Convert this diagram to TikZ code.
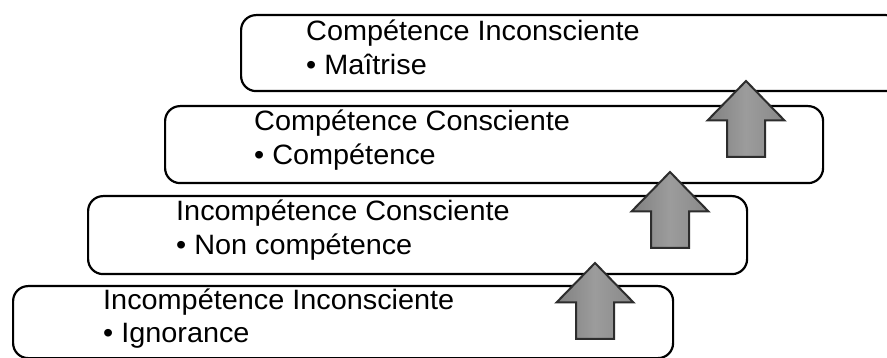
\documentclass[tikz,border=0pt]{standalone}
\usepackage{fontspec}
\setmainfont{Liberation Sans}
\begin{document}
\begin{tikzpicture}[x=1pt,y=-1pt,
  stagebox/.style={draw=black,line width=2.2pt,rounded corners=15pt,fill=white,
    inner sep=0pt,anchor=north west},
  stagetext/.style={anchor=base west,inner sep=0pt,
    font=\fontsize{28pt}{32pt}\selectfont},
  arrowshape/.style={draw={rgb,255:red,45;green,45;blue,45},line width=2pt,line join=miter,
    left color={rgb,255:red,128;green,128;blue,128},
    right color={rgb,255:red,136;green,136;blue,136},
    middle color={rgb,255:red,156;green,156;blue,156}},
  pics/uparrow/.style={code={
    \path[arrowshape] (0,0) -- (38.5,39.5) -- (19,39.5) -- (19,76) -- (-19,76)
      -- (-19,39.5) -- (-38.5,39.5) -- cycle;}}
]
\useasboundingbox (0,0) rectangle (887,358);
\clip (0,0) rectangle (887,358);
\fill[white] (0,0) rectangle (887,358);

% stage boxes, top to bottom
\node[stagebox,minimum width=660pt,minimum height=76pt] (b1) at (240,14) {};
\node[stagebox,minimum width=658pt,minimum height=77pt] (b2) at (164,105) {};
\node[stagebox,minimum width=659pt,minimum height=78pt] (b3) at (87,195) {};
\node[stagebox,minimum width=660pt,minimum height=72pt] (b4) at (12,285) {};

% labels
\newcommand{\wide}[1]{\scalebox{1.03}[1]{#1}}
\node[stagetext] (t1a) at (306,41) {\wide{Compétence Inconsciente}};
\node[stagetext] (t1b) at (306,75) {\wide{• Maîtrise}};
\node[stagetext] (t2a) at (254,131) {\wide{Compétence Consciente}};
\node[stagetext] (t2b) at (254,165) {\wide{• Compétence}};
\node[stagetext] (t3a) at (176,221) {\wide{Incompétence Consciente}};
\node[stagetext] (t3b) at (176,255) {\wide{• Non compétence}};
\node[stagetext] (t4a) at (103,309) {\wide{Incompétence Inconsciente}};
\node[stagetext] (t4b) at (103,343) {\wide{• Ignorance}};

% upward block arrows between stages
\pic at (595,263) {uparrow};
\pic at (670,172) {uparrow};
\pic at (746,81) {uparrow};
\end{tikzpicture}
\end{document}
